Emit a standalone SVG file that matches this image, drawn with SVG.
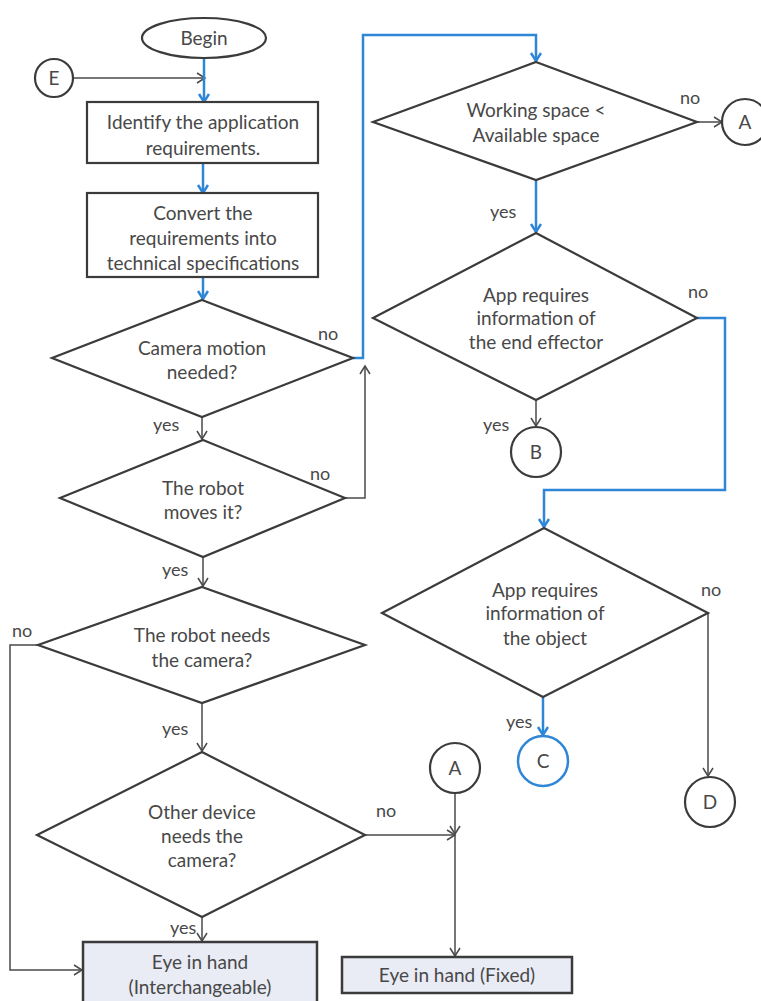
<svg xmlns="http://www.w3.org/2000/svg" width="761" height="1001" viewBox="0 0 761 1001">
  <style>
    .shape { fill: #ffffff; stroke: #3b3b3b; stroke-width: 2.2; }
    .result { fill: #e9ebf5; stroke: #3b3b3b; stroke-width: 2.5; }
    .blueshape { fill: #ffffff; stroke: #2f86d6; stroke-width: 2.5; }
    .label { font-family: Lato, "Open Sans", sans-serif; font-size: 19px; fill: #484848; text-anchor: middle; }
    .small { font-family: Lato, "Open Sans", sans-serif; font-size: 18px; fill: #484848; }
    .dark { fill: none; stroke: #4a4a4a; stroke-width: 1.5; marker-end: url(#arrowDark); }
    .blue { fill: none; stroke: #2f86d6; stroke-width: 2.5; marker-end: url(#arrowBlue); }
  </style>
  <defs>
    <marker id="arrowDark" markerUnits="userSpaceOnUse" markerWidth="14" markerHeight="14" refX="10" refY="6" orient="auto">
      <path d="M2,1 L10,6 L2,11" fill="none" stroke="#4a4a4a" stroke-width="1.5"/>
    </marker>
    <marker id="arrowBlue" markerUnits="userSpaceOnUse" markerWidth="14" markerHeight="14" refX="10" refY="6" orient="auto">
      <path d="M2,1 L10,6 L2,11" fill="none" stroke="#2f86d6" stroke-width="2.5"/>
    </marker>
  </defs>
  <rect width="761" height="1001" fill="#ffffff"/>

  <!-- connectors -->
  <g id="connectors">
    <path class="dark" d="M73,78 H205"/>
    <path class="blue" d="M204,58 V102"/>
    <path class="blue" d="M203,163 V193"/>
    <path class="blue" d="M203,277 V299"/>
    <path class="blue" d="M353,358 H363 V35 H536 V61"/>
    <path class="dark" d="M202,417 V439"/>
    <path class="dark" d="M345,498 H365 V366"/>
    <path class="dark" d="M203,557 V586"/>
    <path class="dark" d="M38,645 H10 V970 H82"/>
    <path class="dark" d="M202,703 V751"/>
    <path class="dark" d="M202,917 V941"/>
    <path class="dark" d="M365,835 H455"/>
    <path class="dark" d="M455,793 V834"/>
    <path class="dark" d="M455,835 V956"/>
    <path class="dark" d="M697,122 H722"/>
    <path class="blue" d="M536,180 V232"/>
    <path class="blue" d="M697,318 H725 V490 H544 V527"/>
    <path class="dark" d="M536,400 V426"/>
    <path class="blue" d="M543,697 V735"/>
    <path class="dark" d="M708,613 V776"/>
  </g>

  <!-- branch labels -->
  <g id="branch-labels" class="small">
    <text x="318" y="340">no</text>
    <text x="153" y="431">yes</text>
    <text x="310" y="480">no</text>
    <text x="162" y="576">yes</text>
    <text x="12" y="637">no</text>
    <text x="162" y="735">yes</text>
    <text x="170" y="934">yes</text>
    <text x="376" y="817">no</text>
    <text x="680" y="104">no</text>
    <text x="490" y="218">yes</text>
    <text x="688" y="298">no</text>
    <text x="483" y="431">yes</text>
    <text x="701" y="596">no</text>
    <text x="506" y="728">yes</text>
  </g>

  <!-- nodes -->
  <g id="begin">
    <ellipse class="shape" cx="204" cy="38" rx="62" ry="20"/>
    <text class="label" x="204" y="45">Begin</text>
  </g>
  <g id="connector-e">
    <circle class="shape" cx="54" cy="78" r="19"/>
    <text class="label" x="54" y="85">E</text>
  </g>
  <g id="identify">
    <rect class="shape" x="87" y="102" width="231" height="61"/>
    <text class="label" x="203" y="129">Identify the application</text>
    <text class="label" x="203" y="155">requirements.</text>
  </g>
  <g id="convert">
    <rect class="shape" x="87" y="193" width="231" height="84"/>
    <text class="label" x="203" y="220">Convert the</text>
    <text class="label" x="203" y="245">requirements into</text>
    <text class="label" x="203" y="270">technical specifications</text>
  </g>
  <g id="camera-motion">
    <polygon class="shape" points="202,300 353,358 202,417 52,358"/>
    <text class="label" x="202" y="355">Camera motion</text>
    <text class="label" x="202" y="379">needed?</text>
  </g>
  <g id="robot-moves">
    <polygon class="shape" points="203,440 345,498 203,557 60,498"/>
    <text class="label" x="203" y="495">The robot</text>
    <text class="label" x="203" y="519">moves it?</text>
  </g>
  <g id="robot-needs">
    <polygon class="shape" points="202,587 365,645 202,703 38,645"/>
    <text class="label" x="202" y="642">The robot needs</text>
    <text class="label" x="202" y="667">the camera?</text>
  </g>
  <g id="other-device">
    <polygon class="shape" points="202,752 365,835 202,917 37,835"/>
    <text class="label" x="202" y="819">Other device</text>
    <text class="label" x="202" y="843">needs the</text>
    <text class="label" x="202" y="867">camera?</text>
  </g>
  <g id="eye-interchangeable">
    <rect class="result" x="83" y="942" width="234" height="62"/>
    <text class="label" x="200" y="969">Eye in hand</text>
    <text class="label" x="200" y="994">(Interchangeable)</text>
  </g>
  <g id="connector-a-lower">
    <circle class="shape" cx="455" cy="768" r="25"/>
    <text class="label" x="455" y="775">A</text>
  </g>
  <g id="eye-fixed">
    <rect class="result" x="342" y="957" width="230" height="36"/>
    <text class="label" x="457" y="982">Eye in hand (Fixed)</text>
  </g>
  <g id="working-space">
    <polygon class="shape" points="536,62 697,122 536,180 373,122"/>
    <text class="label" x="536" y="117">Working space &lt;</text>
    <text class="label" x="536" y="142">Available space</text>
  </g>
  <g id="connector-a-upper">
    <circle class="shape" cx="745" cy="122" r="23"/>
    <text class="label" x="745" y="129">A</text>
  </g>
  <g id="end-effector">
    <polygon class="shape" points="536,233 697,318 536,400 373,318"/>
    <text class="label" x="536" y="302">App requires</text>
    <text class="label" x="536" y="325">information of</text>
    <text class="label" x="536" y="349">the end effector</text>
  </g>
  <g id="connector-b">
    <circle class="shape" cx="536" cy="452" r="25"/>
    <text class="label" x="536" y="459">B</text>
  </g>
  <g id="object-info">
    <polygon class="shape" points="544,528 708,613 543,697 382,613"/>
    <text class="label" x="545" y="597">App requires</text>
    <text class="label" x="545" y="620">information of</text>
    <text class="label" x="545" y="645">the object</text>
  </g>
  <g id="connector-c">
    <circle class="blueshape" cx="543" cy="761" r="25"/>
    <text class="label" x="543" y="768">C</text>
  </g>
  <g id="connector-d">
    <circle class="shape" cx="710" cy="802" r="25"/>
    <text class="label" x="710" y="809">D</text>
  </g>
</svg>
